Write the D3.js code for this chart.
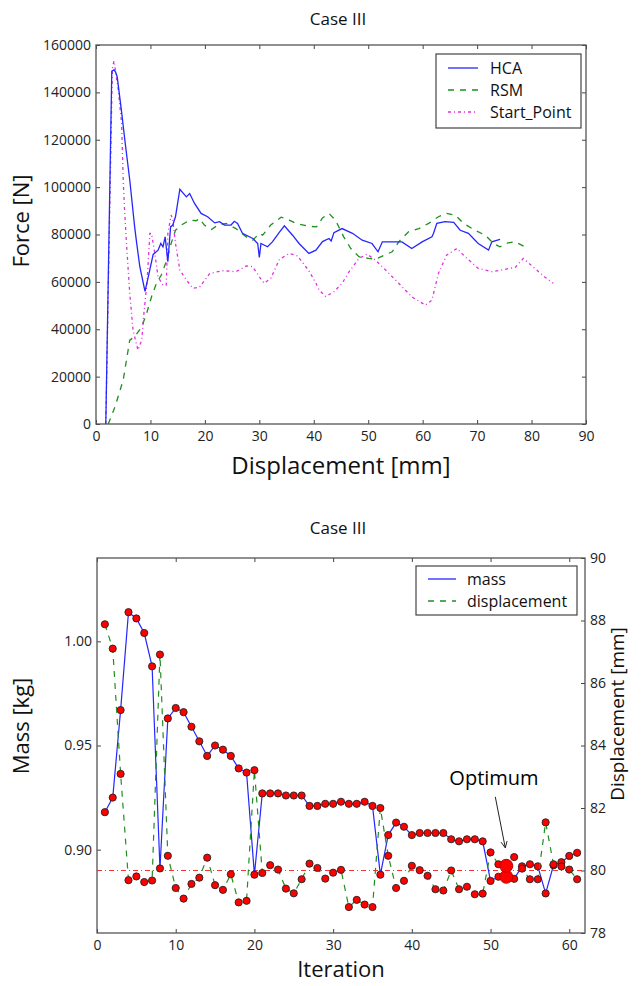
<!DOCTYPE html>
<html>
<head>
<meta charset="utf-8">
<title>Case III</title>
<style>
  body { margin: 0; background: #fff; }
  svg { display: block; background: #fff; }
  .tick text { font-family: "Open Sans", sans-serif; font-size: 14px; fill: #222; }
  .tick line { stroke: #444; }
  .frame { fill: none; stroke: #555; stroke-width: 1.3; }
  .title { font-family: "Open Sans", sans-serif; font-size: 17px; text-anchor: middle; fill: #111; }
  .axlabel { font-family: "Open Sans", sans-serif; font-size: 22px; text-anchor: middle; fill: #111; }
  .legend text { font-family: "Open Sans", sans-serif; font-size: 16px; fill: #111; }
  .legend rect { fill: #fff; stroke: #444; stroke-width: 1.2; }
</style>
</head>
<body>
<svg width="641" height="986"></svg>
<script src="https://d3js.org/d3.v7.min.js"></script>
<script>

// ---- top chart data: force vs displacement
var hcaX = [1.8,2.9,3.3,3.6,3.9,4.7,5.3,6.2,7.1,7.4,8.05,9.0,9.6,10.5,11.4,11.9,12.3,12.7,13.2,13.7,
  14.1,14.6,15.4,16.6,17.2,18.1,19.3,20.5,21.8,22.7,23.6,24.8,25.4,26.0,26.9,28.8,29.7,30.0,30.3,31.5,
  32.4,33.7,34.6,36.1,37.3,39.1,40.4,41.6,42.8,43.2,43.7,45.2,47.1,48.9,50.7,51.8,52.6,54.4,56.2,58.0,
  59.9,61.7,62.0,62.6,64.1,65.7,66.9,68.4,70.2,72.1,72.7,74.2];
var hcaF = [0,149000,149500,148600,146500,131800,119800,103000,83200,77600,66400,56000,62100,71600,73400,76200,74800,79000,68500,83200,
  84000,87500,99100,95900,97300,93100,88900,87500,84900,85400,84000,84000,85600,84700,80500,78300,76200,70300,76200,74800,
  76900,81000,83700,79700,76200,72000,73400,77000,78300,77300,80800,82500,80500,77600,76200,72700,76900,76900,76900,74100,
  76900,79000,80500,84700,85400,85100,81800,80500,76200,73400,76900,77900];

var rsmX = [2.25,3.5,5.0,6.2,7.1,8.4,9.3,10.2,11.1,12.0,13.0,13.8,14.6,15.7,17.2,18.4,19.0,19.9,21.2,22.4,
  23.9,25.7,27.6,28.8,30.0,30.6,32.1,34.0,35.5,36.7,37.3,39.1,40.5,41.6,42.8,44.0,45.5,46.8,48.3,50.1,
  51.3,52.6,54.4,55.6,57.4,59.3,61.1,62.9,64.4,66.0,67.5,69.6,71.5,73.0,74.2,75.7,77.0,78.8];
var rsmF = [0,7300,18600,35400,36800,41000,46700,53700,59400,62900,69200,76200,81800,84000,86100,85800,86800,84000,82100,84000,
  84700,82500,79000,77600,80500,79700,84000,87300,86100,84700,84400,83500,83200,87000,88900,86000,79000,74100,70600,69900,
  69500,70900,72700,76900,81100,82500,84700,87500,88900,88200,84700,81800,79700,76200,74800,76500,76900,74800];

var startX = [1.8,3.0,3.3,4.1,4.7,5.0,5.2,5.6,6.2,6.8,7.7,8.4,8.8,9.4,9.9,10.2,10.8,11.4,12.3,12.9,
  13.2,13.8,14.1,14.6,15.4,16.6,17.8,19.0,20.9,23.3,25.7,27.6,28.8,30.0,30.9,32.1,33.7,35.5,37.0,39.1,
  40.4,41.0,42.2,43.7,45.2,46.5,48.3,49.8,51.3,53.2,55.6,58.0,60.5,61.7,62.9,64.4,66.3,67.8,70.2,72.7,
  75.1,77.0,78.5,80.6,82.4,84.0];
var startF = [0,150000,153300,140900,126900,103000,92400,76200,55100,39700,31200,35400,46700,60800,80500,80500,72000,62100,58600,58600,
  80500,88200,86100,76200,65000,60800,57300,57700,63600,64700,64300,66700,66400,62100,59400,61500,69500,72000,71000,64700,
  59400,56500,53800,55800,59400,64300,69900,71700,69200,65000,59400,53700,50200,52300,63600,71300,74100,70600,65700,64300,
  65300,66100,69900,65700,62100,59400];

var dispTicks = [0,10,20,30,40,50,60,70,80,90];
var forceTicks = [0,20000,40000,60000,80000,100000,120000,140000,160000];
var topSeries = ["HCA", "RSM", "Start_Point"];

// ---- bottom chart data: mass / displacement per iteration
var iterations = [1,2,3,4,5,6,7,8,9,10,11,12,13,14,15,16,17,18,19,20,
  21,22,23,24,25,26,27,28,29,30,31,32,33,34,35,36,37,38,39,40,
  41,42,43,44,45,46,47,48,49,50,51,52,53,54,55,56,57,58,59,60,61];
var mass = [0.918,0.925,0.967,1.014,1.011,1.004,0.988,0.891,0.963,0.968,
  0.966,0.959,0.952,0.945,0.950,0.948,0.945,0.939,0.937,0.888,
  0.927,0.927,0.927,0.926,0.926,0.926,0.921,0.921,0.922,0.922,
  0.923,0.922,0.922,0.923,0.921,0.888,0.907,0.913,0.911,0.907,
  0.908,0.908,0.908,0.908,0.905,0.904,0.905,0.905,0.904,0.885,
  0.887,0.887,0.886,0.892,0.893,0.892,0.879,0.8925,0.894,0.897,0.8985];
var displacement = [87.88,87.10,83.09,79.69,79.81,79.63,79.68,86.91,80.47,79.44,
  79.10,79.57,79.77,80.41,79.53,79.38,79.88,78.98,79.03,83.21,
  79.92,80.17,80.03,79.42,79.27,79.72,80.22,80.08,79.74,79.93,
  80.02,78.83,79.06,78.91,78.83,82.00,80.47,79.44,79.67,80.15,
  80.01,79.83,79.40,79.36,80.00,79.40,79.48,79.24,79.26,80.58,
  80.20,80.15,80.43,80.06,79.72,79.72,81.54,80.20,80.13,80.03,79.72];
var optimumIter = 52;
var dispLimit = 80;
var iterTicks = [0,10,20,30,40,50,60];
var massTicks = [0.90,0.95,1.00];
var dispRightTicks = [78,80,82,84,86,88,90];
var bottomSeries = ["mass", "displacement"];

var colBlue = "#2626ff", colGreen = "#1f8f1f", colMag = "#e030e0";

var svg = d3.select("svg");

function noDomain(g) { g.select(".domain").remove(); }

// ================= top chart =================
var p1 = {l: 96, r: 586, t: 45, b: 424};
var x1 = d3.scaleLinear().domain([0, 90]).range([p1.l, p1.r]);
var y1 = d3.scaleLinear().domain([0, 160000]).range([p1.b, p1.t]);

svg.append("g").attr("transform", "translate(0," + p1.b + ")")
  .call(d3.axisBottom(x1).tickValues(dispTicks).tickSize(-4).tickPadding(7)).call(noDomain);
svg.append("g").attr("transform", "translate(0," + p1.t + ")")
  .call(d3.axisTop(x1).tickValues(dispTicks).tickSize(-4).tickFormat("")).call(noDomain);
svg.append("g").attr("transform", "translate(" + p1.l + ",0)")
  .call(d3.axisLeft(y1).tickValues(forceTicks).tickSize(-4).tickPadding(5).tickFormat(d3.format("d"))).call(noDomain);
svg.append("g").attr("transform", "translate(" + p1.r + ",0)")
  .call(d3.axisRight(y1).tickValues(forceTicks).tickSize(-4).tickFormat("")).call(noDomain);

var line1 = d3.line().x(d => x1(d[0])).y(d => y1(d[1]));

svg.append("path").datum(d3.zip(startX, startF)).attr("d", line1)
  .attr("fill", "none").attr("stroke", colMag).attr("stroke-width", 1.3).attr("stroke-dasharray", "3,3,1,3");
svg.append("path").datum(d3.zip(rsmX, rsmF)).attr("d", line1)
  .attr("fill", "none").attr("stroke", colGreen).attr("stroke-width", 1.3).attr("stroke-dasharray", "6,6");
svg.append("path").datum(d3.zip(hcaX, hcaF)).attr("d", line1)
  .attr("fill", "none").attr("stroke", colBlue).attr("stroke-width", 1.3);

svg.append("rect").attr("class", "frame")
  .attr("x", p1.l).attr("y", p1.t).attr("width", p1.r - p1.l).attr("height", p1.b - p1.t);

svg.append("text").attr("class", "title").attr("x", 338).attr("y", 25).text("Case III");
svg.append("text").attr("class", "axlabel").style("font-size", "24px")
  .attr("x", (p1.l + p1.r) / 2).attr("y", 474).text("Displacement [mm]");
svg.append("text").attr("class", "axlabel")
  .attr("transform", "translate(29," + 221 + ") rotate(-90)").text("Force [N]");

// legend
var lg1 = svg.append("g").attr("class", "legend");
lg1.append("rect").attr("x", 436).attr("y", 54).attr("width", 145).attr("height", 74);
var styles1 = [{c: colBlue, d: null}, {c: colGreen, d: "6,6"}, {c: colMag, d: "3,3,1,3"}];
topSeries.forEach(function(name, i) {
  var yy = 68 + i * 22;
  lg1.append("line").attr("x1", 448).attr("x2", 478).attr("y1", yy).attr("y2", yy)
    .attr("stroke", styles1[i].c).attr("stroke-width", 1.3).attr("stroke-dasharray", styles1[i].d);
  lg1.append("text").attr("x", 490).attr("y", yy).attr("dy", "0.35em").text(name);
});

// ================= bottom chart =================
var p2 = {l: 97, r: 585, t: 558, b: 933};
var x2 = d3.scaleLinear().domain([0, 62]).range([p2.l, p2.r]);
var yM = d3.scaleLinear().domain([0.86, 1.04]).range([p2.b, p2.t]);
var yD = d3.scaleLinear().domain([78, 90]).range([p2.b, p2.t]);

svg.append("g").attr("transform", "translate(0," + p2.b + ")")
  .call(d3.axisBottom(x2).tickValues(iterTicks).tickSize(-4).tickPadding(7)).call(noDomain);
svg.append("g").attr("transform", "translate(0," + p2.t + ")")
  .call(d3.axisTop(x2).tickValues(iterTicks).tickSize(-4).tickFormat("")).call(noDomain);
svg.append("g").attr("transform", "translate(" + p2.l + ",0)")
  .call(d3.axisLeft(yM).tickValues(massTicks).tickSize(-4).tickPadding(5).tickFormat(d3.format(".2f"))).call(noDomain);
svg.append("g").attr("transform", "translate(" + p2.r + ",0)")
  .call(d3.axisRight(yD).tickValues(dispRightTicks).tickSize(-4).tickPadding(5)).call(noDomain);

// displacement limit line
svg.append("line").attr("x1", p2.l).attr("x2", p2.r).attr("y1", yD(dispLimit)).attr("y2", yD(dispLimit))
  .attr("stroke", "#ff3030").attr("stroke-width", 1).attr("stroke-dasharray", "5,3,1,3");

var massPts = d3.zip(iterations, mass);
var dispPts = d3.zip(iterations, displacement);

svg.append("path").datum(massPts)
  .attr("d", d3.line().x(d => x2(d[0])).y(d => yM(d[1])))
  .attr("fill", "none").attr("stroke", colBlue).attr("stroke-width", 1.2);
svg.selectAll(".mdot").data(massPts).enter().append("circle").attr("class", "mdot")
  .attr("cx", d => x2(d[0])).attr("cy", d => yM(d[1])).attr("r", 3.6)
  .attr("fill", "#ff0000").attr("stroke", "#222").attr("stroke-width", 0.9);

svg.append("path").datum(dispPts)
  .attr("d", d3.line().x(d => x2(d[0])).y(d => yD(d[1])))
  .attr("fill", "none").attr("stroke", colGreen).attr("stroke-width", 1.2).attr("stroke-dasharray", "6,6");
svg.selectAll(".ddot").data(dispPts).enter().append("circle").attr("class", "ddot")
  .attr("cx", d => x2(d[0])).attr("cy", d => yD(d[1])).attr("r", 3.6)
  .attr("fill", "#ff0000").attr("stroke", "#222").attr("stroke-width", 0.9);

// optimum
var oi = iterations.indexOf(optimumIter);
var optY = [yM(mass[oi]), yD(displacement[oi])];
optY.forEach(function(yy) {
  svg.append("circle").attr("cx", x2(optimumIter)).attr("cy", yy).attr("r", 6.5)
    .attr("fill", "#ff0000").attr("stroke", "#c00000").attr("stroke-width", 1);
});
var tipX = x2(optimumIter) - 1, tipY = d3.min(optY) - 18;
var sx = tipX - 10, sy = tipY - 51;
svg.append("line").attr("x1", sx).attr("y1", sy).attr("x2", tipX).attr("y2", tipY)
  .attr("stroke", "#222").attr("stroke-width", 1);
var ang = Math.atan2(tipY - sy, tipX - sx);
[-0.45, 0.45].forEach(function(a) {
  svg.append("line").attr("x1", tipX).attr("y1", tipY)
    .attr("x2", tipX - 7 * Math.cos(ang + a)).attr("y2", tipY - 7 * Math.sin(ang + a))
    .attr("stroke", "#222").attr("stroke-width", 1);
});
svg.append("text").attr("x", 494).attr("y", 785).attr("text-anchor", "middle")
  .style("font-family", "Open Sans, sans-serif").style("font-size", "20px").text("Optimum");

svg.append("rect").attr("class", "frame")
  .attr("x", p2.l).attr("y", p2.t).attr("width", p2.r - p2.l).attr("height", p2.b - p2.t);

svg.append("text").attr("class", "title").attr("x", 338).attr("y", 534).text("Case III");
svg.append("text").attr("class", "axlabel").attr("x", (p2.l + p2.r) / 2).attr("y", 977).text("Iteration");
svg.append("text").attr("class", "axlabel")
  .attr("transform", "translate(29,726) rotate(-90)").text("Mass [kg]");
svg.append("text").attr("class", "axlabel").style("font-size", "19px")
  .attr("transform", "translate(624,714) rotate(-90)").text("Displacement [mm]");

// legend
var lg2 = svg.append("g").attr("class", "legend");
lg2.append("rect").attr("x", 416).attr("y", 566).attr("width", 161).attr("height", 49);
var styles2 = [{c: colBlue, d: null}, {c: colGreen, d: "6,6"}];
bottomSeries.forEach(function(name, i) {
  var yy = 579 + i * 22;
  lg2.append("line").attr("x1", 428).attr("x2", 456).attr("y1", yy).attr("y2", yy)
    .attr("stroke", styles2[i].c).attr("stroke-width", 1.3).attr("stroke-dasharray", styles2[i].d);
  lg2.append("text").attr("x", 467).attr("y", yy).attr("dy", "0.35em").text(name);
});

</script>
</body>
</html>
